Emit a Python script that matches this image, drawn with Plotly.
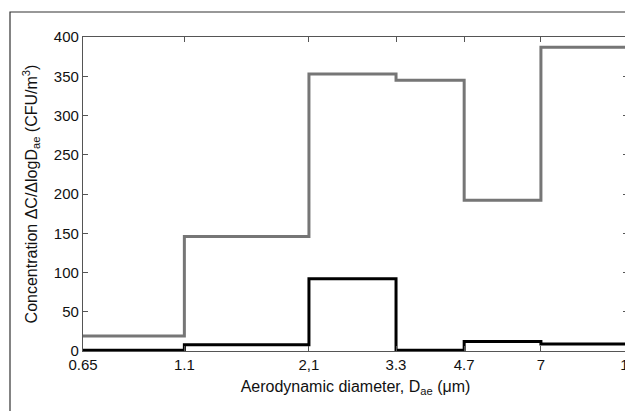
import numpy as np
import plotly.graph_objects as go

edges = [0.65, 1.1, 2.1, 3.3, 4.7, 7, 11]
tick_labels = ["0.65", "1.1", "2,1", "3.3", "4.7", "7", "11"]
gray_vals = [19, 146, 353, 345, 192, 387]
black_vals = [1, 8, 92, 1, 12, 9]

# page body has an 8px margin; size the figure so it fills the 633x411 window
OFF = 8
W, H = 633 - OFF, 411 - OFF
L, R, T, B = 83 - OFF, 5, 37 - OFF, 60

fig = go.Figure()
fig.add_trace(go.Scatter(x=edges, y=gray_vals + [gray_vals[-1]], mode="lines",
                         line=dict(shape="hv", color="#767676", width=3), showlegend=False))
fig.add_trace(go.Scatter(x=edges, y=black_vals + [black_vals[-1]], mode="lines",
                         line=dict(shape="hv", color="#000000", width=3), showlegend=False))

pw = W - L - R
ph = H - T - B
fig.add_shape(type="rect", xref="paper", yref="paper",
              x0=(10 - OFF - L) / pw, x1=(W + 5 - L) / pw,
              y0=-(B + 5) / ph, y1=(H - (12 - OFF) - B) / ph,
              line=dict(color="#333333", width=1.2), fillcolor="rgba(0,0,0,0)", layer="below")

font = "Liberation Sans, Arial, sans-serif"
fig.update_layout(
    width=W, height=H,
    margin=dict(l=L, r=R, t=T, b=B, autoexpand=False),
    paper_bgcolor="white", plot_bgcolor="white",
    font=dict(family=font, size=15, color="#111111"),
    xaxis=dict(type="log", range=[np.log10(0.65), np.log10(11)],
               tickvals=edges, ticktext=tick_labels, ticks="inside", ticklen=5,
               tickcolor="#555555", showgrid=False, zeroline=False, automargin=False,
               ticklabeloverflow="allow",
               showline=True, linecolor="#555555", linewidth=1.2, mirror="ticks",
               tickfont=dict(size=15),
               title=dict(text="Aerodynamic diameter, D<sub>ae</sub> (μm)", standoff=8,
                          font=dict(size=16))),
    yaxis=dict(range=[0, 400], dtick=50, ticks="inside", ticklen=5,
               tickcolor="#555555", showgrid=False, zeroline=False, automargin=False,
               showline=True, linecolor="#555555", linewidth=1.2, mirror="ticks",
               tickfont=dict(size=15),
               title=dict(text="Concentration ΔC/ΔlogD<sub>ae</sub> (CFU/m<sup>3</sup>)",
                          standoff=12, font=dict(size=16))),
)
fig.write_html("out.html")
